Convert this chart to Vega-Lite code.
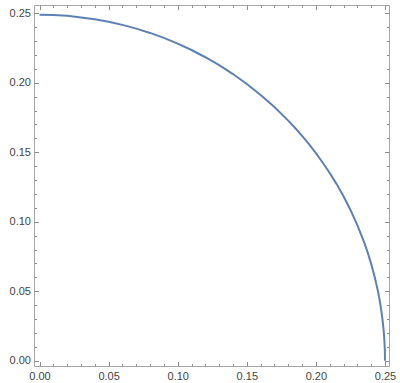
{
  "$schema": "https://vega.github.io/schema/vega-lite/v6.json",
  "width": 355,
  "height": 361,
  "autosize": "none",
  "padding": {"left": 34, "top": 5, "right": 11, "bottom": 17},
  "config": {
    "view": {"stroke": "#a6a6a6", "strokeWidth": 1},
    "axis": {"domain": false, "grid": false, "title": null, "tickColor": "#8c8c8c", "ticks": true, "labelColor": "#444444", "labelFont": "Liberation Sans", "labelFontSize": 11}
  },
  "data": {"values": [
    {"x": 0, "y": 0.249},
    {"x": 0.01, "y": 0.2488},
    {"x": 0.02, "y": 0.2482},
    {"x": 0.04, "y": 0.2458},
    {"x": 0.05, "y": 0.244},
    {"x": 0.06, "y": 0.2417},
    {"x": 0.07, "y": 0.239},
    {"x": 0.08, "y": 0.2359},
    {"x": 0.09, "y": 0.2323},
    {"x": 0.10, "y": 0.2282},
    {"x": 0.11, "y": 0.2236},
    {"x": 0.12, "y": 0.2184},
    {"x": 0.13, "y": 0.2127},
    {"x": 0.14, "y": 0.2063},
    {"x": 0.15, "y": 0.1992},
    {"x": 0.16, "y": 0.1913},
    {"x": 0.17, "y": 0.1826},
    {"x": 0.18, "y": 0.1728},
    {"x": 0.185, "y": 0.1675},
    {"x": 0.19, "y": 0.1618},
    {"x": 0.195, "y": 0.1558},
    {"x": 0.20, "y": 0.1494},
    {"x": 0.205, "y": 0.1425},
    {"x": 0.21, "y": 0.1351},
    {"x": 0.215, "y": 0.1271},
    {"x": 0.22, "y": 0.1183},
    {"x": 0.225, "y": 0.1085},
    {"x": 0.23, "y": 0.0976},
    {"x": 0.235, "y": 0.085},
    {"x": 0.2375, "y": 0.0778},
    {"x": 0.24, "y": 0.0697},
    {"x": 0.2425, "y": 0.0605},
    {"x": 0.245, "y": 0.0496},
    {"x": 0.2465, "y": 0.0415},
    {"x": 0.248, "y": 0.0314},
    {"x": 0.249, "y": 0.0222},
    {"x": 0.2495, "y": 0.0157},
    {"x": 0.2499, "y": 0.007},
    {"x": 0.25, "y": 0}
  ]},
  "layer": [
    {
      "mark": {"type": "line", "opacity": 0},
      "encoding": {
        "x": {"field": "x", "type": "quantitative", "scale": {"domain": [-0.004, 0.2529], "nice": false, "zero": false},
          "axis": {"orient": "bottom", "values": [0.01,0.02,0.03,0.04,0.06,0.07,0.08,0.09,0.11,0.12,0.13,0.14,0.16,0.17,0.18,0.19,0.21,0.22,0.23,0.24], "labels": false, "tickSize": -2.5}},
        "y": {"field": "y", "type": "quantitative", "scale": {"domain": [-0.0038, 0.256], "nice": false, "zero": false},
          "axis": {"orient": "left", "values": [0.01,0.02,0.03,0.04,0.06,0.07,0.08,0.09,0.11,0.12,0.13,0.14,0.16,0.17,0.18,0.19,0.21,0.22,0.23,0.24], "labels": false, "tickSize": -2.5}}
      }
    },
    {
      "mark": {"type": "line", "opacity": 0},
      "encoding": {
        "x": {"field": "x", "type": "quantitative",
          "axis": {"orient": "top", "values": [0.01,0.02,0.03,0.04,0.06,0.07,0.08,0.09,0.11,0.12,0.13,0.14,0.16,0.17,0.18,0.19,0.21,0.22,0.23,0.24], "labels": false, "tickSize": -2.5}},
        "y": {"field": "y", "type": "quantitative",
          "axis": {"orient": "right", "values": [0.01,0.02,0.03,0.04,0.06,0.07,0.08,0.09,0.11,0.12,0.13,0.14,0.16,0.17,0.18,0.19,0.21,0.22,0.23,0.24], "labels": false, "tickSize": -2.5}}
      }
    },
    {
      "mark": {"type": "line", "opacity": 0},
      "encoding": {
        "x": {"field": "x", "type": "quantitative",
          "axis": {"orient": "top", "values": [0, 0.05, 0.1, 0.15, 0.2, 0.25], "labels": false, "tickSize": -4.5}},
        "y": {"field": "y", "type": "quantitative",
          "axis": {"orient": "right", "values": [0, 0.05, 0.1, 0.15, 0.2, 0.25], "labels": false, "tickSize": -4.5}}
      }
    },
    {
      "mark": {"type": "line", "color": "#5E81B5", "strokeWidth": 2},
      "encoding": {
        "x": {"field": "x", "type": "quantitative",
          "axis": {"orient": "bottom", "values": [0, 0.05, 0.1, 0.15, 0.2, 0.25], "format": ".2f", "tickSize": -4.5, "labelPadding": 9}},
        "y": {"field": "y", "type": "quantitative",
          "axis": {"orient": "left", "values": [0, 0.05, 0.1, 0.15, 0.2, 0.25], "format": ".2f", "tickSize": -4.5, "labelPadding": 8}}
      }
    }
  ],
  "resolve": {"axis": {"x": "independent", "y": "independent"}}
}
